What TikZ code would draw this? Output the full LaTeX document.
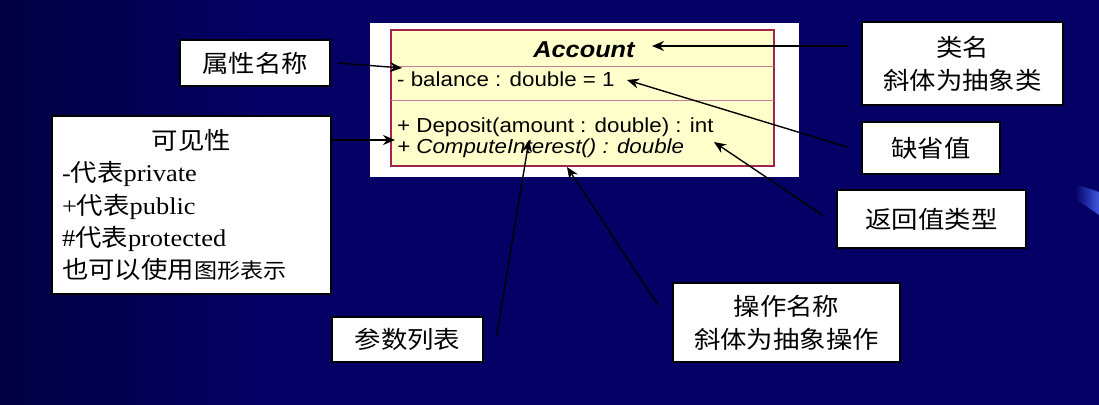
\documentclass[tikz,border=0pt]{standalone}
\usepackage{fontspec}
\setmainfont{Liberation Serif}[FakeStretch=1.1]
\newfontfamily\cjk{Noto Sans CJK SC}[FakeStretch=1.1]
\newfontfamily\umlfont{Liberation Sans}[FakeStretch=1.1]
\usepackage{tikz}
\usetikzlibrary{arrows.meta}

\definecolor{slidebg}{RGB}{4,0,102}
\definecolor{slidedark}{RGB}{2,0,66}
\definecolor{swoosh}{RGB}{70,100,240}
\definecolor{classfill}{RGB}{255,255,204}
\definecolor{classedge}{RGB}{160,35,80}

\begin{document}
\begin{tikzpicture}[x=1pt,y=-1pt,
  labelbox/.style={draw=black, line width=1.5pt, fill=white, inner sep=0pt,
    align=center, font=\cjk\fontsize{24}{33}\selectfont},
  uml/.style={anchor=base west, inner sep=0pt, font=\umlfont\fontsize{20.3}{24}\selectfont},
  pointer/.style={line width=1.4pt, -{Stealth[length=12pt,width=10pt]}}]

% slide background
\useasboundingbox (0,0) rectangle (1099,404);
\fill[slidebg] (-3,-3) rectangle (1102,407);
\shade[left color=slidedark, right color=slidebg] (-3,-3) rectangle (270,407);
\shade[left color=slidebg, right color=swoosh] (1075,184) -- (1102,193) -- (1102,217) -- (1077,200) -- cycle;

% the class
\fill[white] (370,23) rectangle (799,177);
\draw[classedge, line width=1.4pt, fill=classfill] (391,30) rectangle (774,166);
\draw[classedge!60, line width=1pt] (391,66) -- (774,66) (391,100) -- (774,100);

\node[uml, anchor=base, font=\umlfont\fontsize{23}{26}\selectfont\bfseries\itshape] (cls) at (584,58) {Account};
\node[uml] (attr) at (397,86) {- balance : double = 1};
\node[uml] (deposit) at (397,132) {+ Deposit(amount : double) : int};
\node[uml, font=\umlfont\fontsize{20.3}{24}\selectfont\itshape] (compute) at (397,153) {+ ComputeInterest() : double};

% labels
\node[labelbox, minimum width=150pt, minimum height=46pt] (attrname) at (255,63) {属性名称};
\node[labelbox, minimum width=279pt, minimum height=178pt, text width=259pt, align=left,
  font=\fontsize{24}{32.3}\selectfont] (visib) at (191.5,205)
  {\makebox[259pt]{\cjk 可见性}\\
   -{\cjk 代表}private\\
   +{\cjk 代表}public\\
   \#{\cjk 代表}protected\\
   {\cjk 也可以使用{\fontsize{21}{32.3}\selectfont 图形表示}}};
\node[labelbox, minimum width=201pt, minimum height=83pt] (clsname) at (962.5,63.5) {类名\\斜体为抽象类};
\node[labelbox, minimum width=138pt, minimum height=52pt] (defval) at (931,148) {缺省值};
\node[labelbox, minimum width=189pt, minimum height=58pt] (rettype) at (931.5,219) {返回值类型};
\node[labelbox, minimum width=151pt, minimum height=45pt] (params) at (407.5,339.5) {参数列表};
\node[labelbox, minimum width=227pt, minimum height=79pt] (opname) at (786.5,322.5) {操作名称\\斜体为抽象操作};

% where the arrows point
\coordinate (tipcls) at (652,46);
\coordinate (tipattr) at (402,68);
\coordinate (tipdef) at (627,80);
\coordinate (tipret) at (714,142);
\coordinate (tipvis) at (395,140);
\coordinate (tippar) at (529,140);
\coordinate (tipop) at (567,167);

\draw[pointer] ([xshift=-14pt,yshift=17.5pt]clsname.west) -- (tipcls);
\draw[pointer] ([xshift=7pt]attrname.east) -- (tipattr);
\draw[pointer] ([xshift=-14pt,yshift=1pt]defval.west) -- (tipdef);
\draw[pointer] ([xshift=-14pt,yshift=4pt]rettype.west) -- (tipret);
\draw[pointer] ([yshift=65pt]visib.east) -- (tipvis);
\draw[pointer] ([xshift=13pt,yshift=4.5pt]params.east) -- (tippar);
\draw[pointer] ([xshift=-14pt,yshift=-23pt]opname.north west) -- (tipop);
\end{tikzpicture}
\end{document}
